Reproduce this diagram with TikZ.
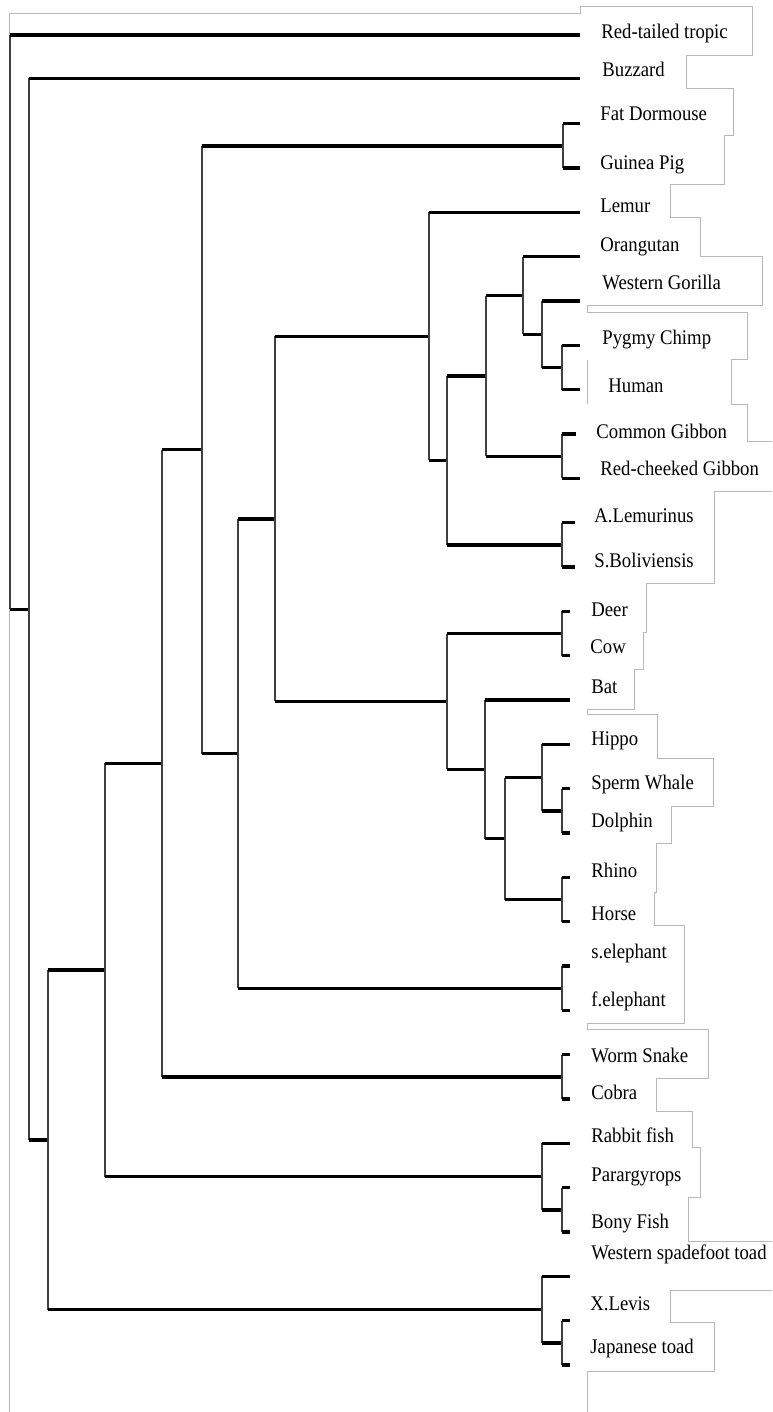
\documentclass[tikz,border=0pt]{standalone}
\usepackage{fontspec}
\setmainfont{Liberation Serif}[FakeStretch=0.9]
\usetikzlibrary{calc}
\tikzset{
  hbar/.style={line width=1.7pt, black},
  vbar/.style={line width=0.8pt, black!75},
  boxline/.style={line width=0.5pt, black!28},
  taxon/.style={anchor=base west, inner sep=0pt, font=\fontsize{10.4}{12}\selectfont}
}
\newcommand{\branch}[2]{%
  \draw[vbar] (#1) -- (#1 |- #2);
  \draw[hbar] (#1 |- #2) -- (#2);
}

\begin{document}
\begin{tikzpicture}[x=0.5pt, y=-0.5pt]
 \useasboundingbox (0,0) rectangle (772,1412);
 \fill[white] (0,0) rectangle (772,1412);

 \draw[boxline] (9.5,1412) -- (9.5,14) -- (580,14) -- (580,7) -- (752,7) -- (752,56) -- (686,56) -- (686,89) -- (733,89) -- (733,136) -- (724,136) -- (724,185) -- (670,185) -- (670,218) -- (700,218) -- (700,256) -- (762,256) -- (762,305) -- (587,305) -- (587,312) -- (747,312) -- (747,359) -- (731,359) -- (731,404) -- (747,404) -- (747,441) -- (772,441);
 \draw[boxline] (587,360) -- (587,404);
 \draw[boxline] (772,491) -- (714,491) -- (714,583) -- (646,583) -- (646,632) -- (643,632) -- (643,669) -- (634,669) -- (634,709) -- (587,709) -- (587,714) -- (657,714) -- (657,758) -- (713,758) -- (713,806) -- (671,806) -- (671,843) -- (656,843) -- (656,892) -- (654,892) -- (654,925) -- (684,925) -- (684,1023) -- (587,1023) -- (587,1029) -- (708,1029) -- (708,1078) -- (656,1078) -- (656,1111) -- (692,1111) -- (692,1147) -- (700,1147) -- (700,1197) -- (688,1197) -- (688,1241) -- (772,1241);
 \draw[boxline] (772,1290) -- (670,1290) -- (670,1322) -- (714,1322) -- (714,1371) -- (587,1371) -- (587,1412);

 \coordinate (tropic) at (580,35);
 \coordinate (buzzard) at (580,78.5);
 \coordinate (dormouse) at (580,123.7);
 \coordinate (guinea) at (580,168);
 \coordinate (lemur) at (580,212.3);
 \coordinate (orang) at (580,256.7);
 \coordinate (gorilla) at (580,301);
 \coordinate (pygmy) at (580,345.3);
 \coordinate (human) at (580,389.6);
 \coordinate (cgibbon) at (576,434);
 \coordinate (rgibbon) at (580,478.3);
 \coordinate (alem) at (575,522.6);
 \coordinate (sbol) at (575,567);
 \coordinate (deer) at (570,611.3);
 \coordinate (cow) at (570,655.6);
 \coordinate (bat) at (570,700);
 \coordinate (hippo) at (570,744.3);
 \coordinate (sperm) at (570,788.6);
 \coordinate (dolphin) at (570,833);
 \coordinate (rhino) at (570,877.3);
 \coordinate (horse) at (570,921.6);
 \coordinate (selph) at (570,966);
 \coordinate (felph) at (570,1010.3);
 \coordinate (worm) at (570,1054.6);
 \coordinate (cobra) at (570,1099);
 \coordinate (rabbit) at (570,1143.3);
 \coordinate (parar) at (570,1187.6);
 \coordinate (bony) at (570,1232);
 \coordinate (spade) at (570,1276.3);
 \coordinate (xlevis) at (570,1320.6);
 \coordinate (japtoad) at (570,1365);

 \node[taxon] (tropic-t) at (601,39) {Red-tailed tropic};
 \node[taxon] (buzzard-t) at (602,77) {Buzzard};
 \node[taxon] (dormouse-t) at (600,121) {Fat Dormouse};
 \node[taxon] (guinea-t) at (600,170) {Guinea Pig};
 \node[taxon] (lemur-t) at (600,213) {Lemur};
 \node[taxon] (orang-t) at (600,251) {Orangutan};
 \node[taxon] (gorilla-t) at (602,289) {Western Gorilla};
 \node[taxon] (pygmy-t) at (602,344) {Pygmy Chimp};
 \node[taxon] (human-t) at (608,392) {Human};
 \node[taxon] (cgibbon-t) at (596,438) {Common Gibbon};
 \node[taxon] (rgibbon-t) at (600,475) {Red-cheeked Gibbon};
 \node[taxon] (alem-t) at (594,522) {A.Lemurinus};
 \node[taxon] (sbol-t) at (594,567) {S.Boliviensis};
 \node[taxon] (deer-t) at (591,616) {Deer};
 \node[taxon] (cow-t) at (590,653) {Cow};
 \node[taxon] (bat-t) at (591,693) {Bat};
 \node[taxon] (hippo-t) at (591,745) {Hippo};
 \node[taxon] (sperm-t) at (591,789) {Sperm Whale};
 \node[taxon] (dolphin-t) at (591,827) {Dolphin};
 \node[taxon] (rhino-t) at (591,877) {Rhino};
 \node[taxon] (horse-t) at (591,920) {Horse};
 \node[taxon] (selph-t) at (591,958) {s.elephant};
 \node[taxon] (felph-t) at (591,1006) {f.elephant};
 \node[taxon] (worm-t) at (591,1062) {Worm Snake};
 \node[taxon] (cobra-t) at (591,1099) {Cobra};
 \node[taxon] (rabbit-t) at (591,1142) {Rabbit fish};
 \node[taxon] (parar-t) at (591,1181) {Parargyrops};
 \node[taxon] (bony-t) at (591,1228) {Bony Fish};
 \node[taxon] (spade-t) at (591,1259) {Western spadefoot toad};
 \node[taxon] (xlevis-t) at (590,1310) {X.Levis};
 \node[taxon] (japtoad-t) at (590,1353) {Japanese toad};

 \coordinate (root) at (10,322.1);
 \coordinate (bird) at (29,609.2);
 \coordinate (vert2) at (48,1139.8);
 \coordinate (vert1) at (105,970);
 \coordinate (amniote) at (162,763.3);
 \coordinate (mammal) at (202,449.7);
 \coordinate (placent) at (238,753.5);
 \coordinate (boreo) at (275,518.9);
 \coordinate (primate) at (429,336.3);
 \coordinate (anth) at (447,460.3);
 \coordinate (ape) at (486,375.8);
 \coordinate (hominid) at (523,295.5);
 \coordinate (homgor) at (542,334.2);
 \coordinate (pan) at (562,367.5);
 \coordinate (gibbon) at (562,456.2);
 \coordinate (nwm) at (562,544.8);
 \coordinate (laura) at (447,701.4);
 \coordinate (bovid) at (562,633.5);
 \coordinate (scrot) at (485,769.3);
 \coordinate (ungul) at (505,838.5);
 \coordinate (cetart) at (542,777.6);
 \coordinate (whale) at (562,810.8);
 \coordinate (perisso) at (562,899.5);
 \coordinate (eleph) at (562,988.2);
 \coordinate (rodent) at (563,145.9);
 \coordinate (snake) at (562,1076.8);
 \coordinate (fish) at (542,1176.6);
 \coordinate (fishb) at (562,1209.8);
 \coordinate (toad) at (542,1309.6);
 \coordinate (toadb) at (562,1342.8);

 \branch{root}{tropic}
 \branch{root}{bird}
 \branch{bird}{buzzard}
 \branch{bird}{vert2}
 \branch{vert2}{vert1}
 \branch{vert2}{toad}
 \branch{toad}{spade}
 \branch{toad}{toadb}
 \branch{toadb}{xlevis}
 \branch{toadb}{japtoad}
 \branch{vert1}{amniote}
 \branch{vert1}{fish}
 \branch{fish}{rabbit}
 \branch{fish}{fishb}
 \branch{fishb}{parar}
 \branch{fishb}{bony}
 \branch{amniote}{mammal}
 \branch{amniote}{snake}
 \branch{snake}{worm}
 \branch{snake}{cobra}
 \branch{mammal}{rodent}
 \branch{mammal}{placent}
 \branch{rodent}{dormouse}
 \branch{rodent}{guinea}
 \branch{placent}{boreo}
 \branch{placent}{eleph}
 \branch{eleph}{selph}
 \branch{eleph}{felph}
 \branch{boreo}{primate}
 \branch{boreo}{laura}
 \branch{primate}{lemur}
 \branch{primate}{anth}
 \branch{anth}{ape}
 \branch{anth}{nwm}
 \branch{nwm}{alem}
 \branch{nwm}{sbol}
 \branch{ape}{hominid}
 \branch{ape}{gibbon}
 \branch{gibbon}{cgibbon}
 \branch{gibbon}{rgibbon}
 \branch{hominid}{orang}
 \branch{hominid}{homgor}
 \branch{homgor}{gorilla}
 \branch{homgor}{pan}
 \branch{pan}{pygmy}
 \branch{pan}{human}
 \branch{laura}{bovid}
 \branch{laura}{scrot}
 \branch{bovid}{deer}
 \branch{bovid}{cow}
 \branch{scrot}{bat}
 \branch{scrot}{ungul}
 \branch{ungul}{cetart}
 \branch{ungul}{perisso}
 \branch{cetart}{hippo}
 \branch{cetart}{whale}
 \branch{whale}{sperm}
 \branch{whale}{dolphin}
 \branch{perisso}{rhino}
 \branch{perisso}{horse}
\end{tikzpicture}
\end{document}
